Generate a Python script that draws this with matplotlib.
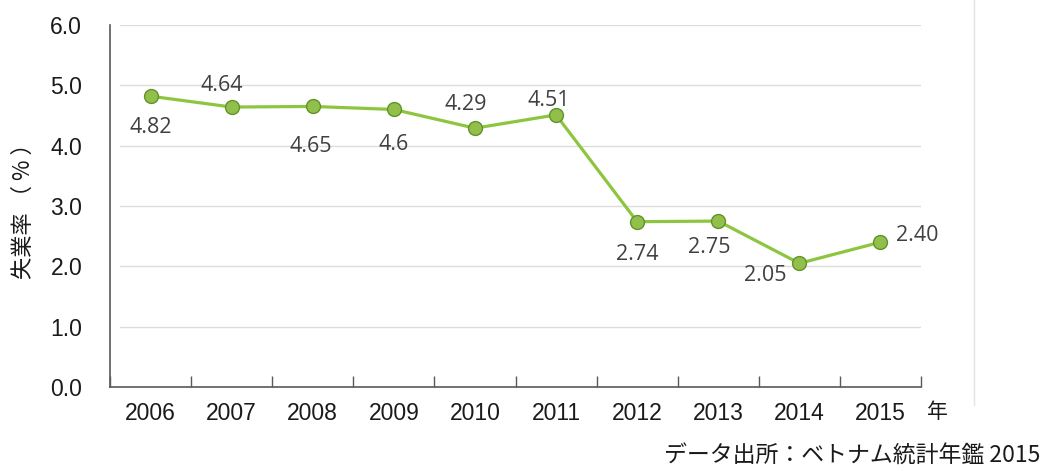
import matplotlib
matplotlib.use("Agg")
import matplotlib.pyplot as plt
from matplotlib.lines import Line2D
import numpy as np

years = ['2006', '2007', '2008', '2009', '2010', '2011', '2012', '2013', '2014', '2015']
rates = [4.82, 4.64, 4.65, 4.60, 4.29, 4.51, 2.74, 2.75, 2.05, 2.40]
labels = ['4.82', '4.64', '4.65', '4.6', '4.29', '4.51', '2.74', '2.75', '2.05', '2.40']
y_ticks = [0.0, 1.0, 2.0, 3.0, 4.0, 5.0, 6.0]

# label offsets in pixels (dx, dy downwards) from each point
label_offsets = [(0, 31), (-10, -22), (-2, 40), (0, 35), (-9, -24),
                 (-7, -14), (0, 33), (-9, 26), (-34, 12), (37, -7)]

plt.rcParams['font.family'] = ['Liberation Sans', 'Noto Sans CJK JP', 'DejaVu Sans']
cjk = ['Noto Sans CJK JP', 'DejaVu Sans']

fig = plt.figure(figsize=(10.52, 4.72), dpi=100)
ax = fig.add_axes([110 / 1052, 1 - 387 / 472, (921 - 110) / 1052, (387 - 25) / 472])

x = np.arange(len(years))
ax.plot(x, rates, color='#8cc63f', lw=2.3, zorder=3,
        marker='o', markersize=10, markerfacecolor='#92bf4c',
        markeredgecolor='#5f9428', markeredgewidth=1.0)

px = 0.72  # points per pixel
for xi, v, lab, (dx, dy) in zip(x, rates, labels, label_offsets):
    ax.annotate(lab, (xi, v), xytext=(dx * px, -dy * px), textcoords='offset points',
                ha='center', va='center', fontsize=15.5, color='#404040',
                family=['Open Sans', 'DejaVu Sans'])

ax.set_xlim(-0.5, len(years) - 0.5)
ax.set_ylim(0, 6)
ax.set_yticks(y_ticks)
ax.set_yticklabels([f'{t:.1f}' for t in y_ticks])
ax.set_xticks(x)
ax.set_xticklabels(years)
ax.set_xticks(np.arange(-0.5, len(years), 1.0), minor=True)

ax.tick_params(axis='y', length=0, pad=20, labelsize=16.5, labelcolor='#1a1a1a')
ax.tick_params(axis='x', which='major', length=0, pad=11, labelsize=16.5, labelcolor='#1a1a1a')
ax.tick_params(axis='x', which='minor', direction='in', length=8, width=1, color='#595959')

for yv in y_ticks[1:]:
    ax.axhline(yv, xmin=0.012, xmax=1.0, color='#dcdcdc', lw=1, zorder=1)

for s in ['top', 'right']:
    ax.spines[s].set_visible(False)
ax.spines['left'].set_color('#595959')
ax.spines['bottom'].set_color('#595959')
ax.spines['left'].set_linewidth(1.2)
ax.spines['bottom'].set_linewidth(1.2)

fig.text(23 / 1052, 1 - 206 / 472, '失業率 （ % ）', rotation=90, ha='center', va='center',
         fontsize=16, color='#1a1a1a', family=cjk)
fig.text(937 / 1052, 1 - 412 / 472, '年', ha='center', va='center',
         fontsize=15, color='#1a1a1a', family=cjk)
fig.text(1040 / 1052, 1 - 455 / 472, 'データ出所：ベトナム統計年鑑 2015', ha='right', va='center',
         fontsize=16.5, color='#1a1a1a', family=cjk)

fig.add_artist(Line2D([974 / 1052, 974 / 1052], [1 - 405 / 472, 1.0],
                      transform=fig.transFigure, color='#e3e3e3', lw=1))

fig.savefig('out.png', dpi=100)
